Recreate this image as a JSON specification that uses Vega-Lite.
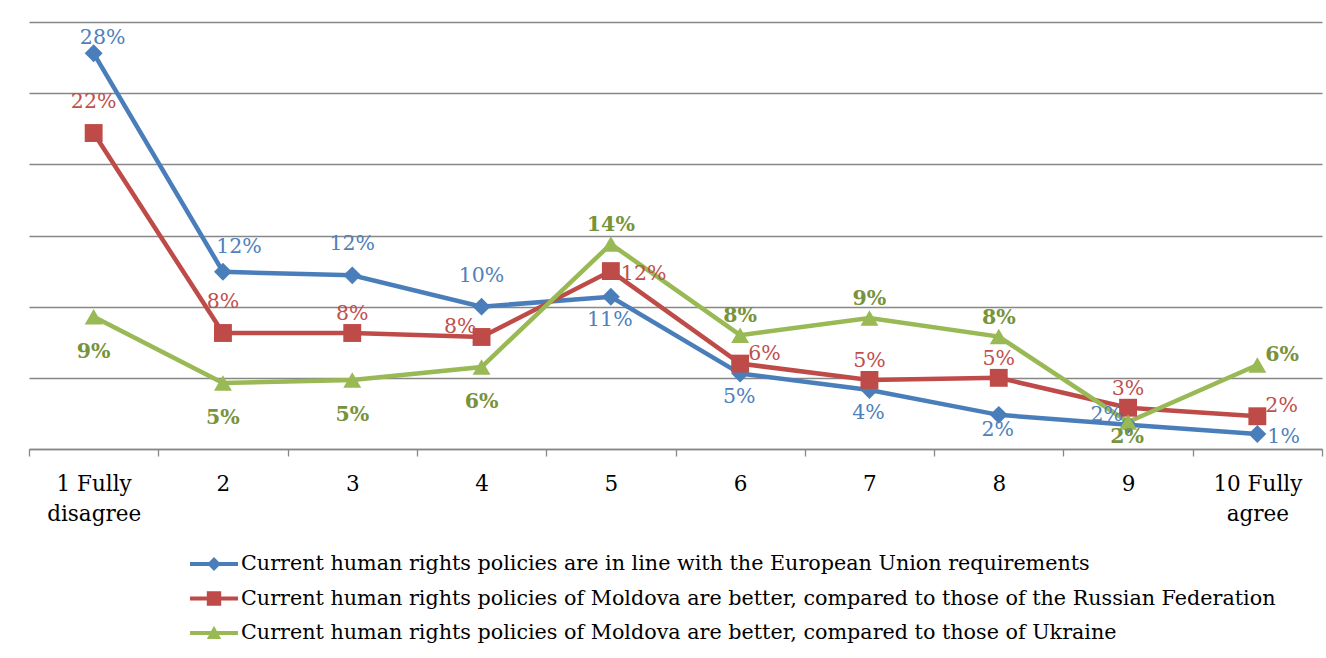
{
  "$schema": "https://vega.github.io/schema/vega-lite/v6.json",
  "width": 1293,
  "height": 427,
  "autosize": {"type": "none"},
  "padding": {"left": 29, "top": 22, "right": 4, "bottom": 209},
  "background": "white",
  "config": {"view": {"stroke": null}, "font": "DejaVu Serif"},
  "data": {
    "values": [
      {"code": "EU", "k": 1, "x": "1 Fully disagree", "v": 27.8, "label": "28%"},
      {"code": "EU", "k": 2, "x": "2", "v": 12.45, "label": "12%"},
      {"code": "EU", "k": 3, "x": "3", "v": 12.2, "label": "12%"},
      {"code": "EU", "k": 4, "x": "4", "v": 10.0, "label": "10%"},
      {"code": "EU", "k": 5, "x": "5", "v": 10.7, "label": "11%"},
      {"code": "EU", "k": 6, "x": "6", "v": 5.3, "label": "5%"},
      {"code": "EU", "k": 7, "x": "7", "v": 4.15, "label": "4%"},
      {"code": "EU", "k": 8, "x": "8", "v": 2.4, "label": "2%"},
      {"code": "EU", "k": 9, "x": "9", "v": 1.7, "label": "2%"},
      {"code": "EU", "k": 10, "x": "10 Fully agree", "v": 1.05, "label": "1%"},
      {"code": "RU", "k": 1, "x": "1 Fully disagree", "v": 22.2, "label": "22%"},
      {"code": "RU", "k": 2, "x": "2", "v": 8.15, "label": "8%"},
      {"code": "RU", "k": 3, "x": "3", "v": 8.15, "label": "8%"},
      {"code": "RU", "k": 4, "x": "4", "v": 7.87, "label": "8%"},
      {"code": "RU", "k": 5, "x": "5", "v": 12.5, "label": "12%"},
      {"code": "RU", "k": 6, "x": "6", "v": 6.0, "label": "6%"},
      {"code": "RU", "k": 7, "x": "7", "v": 4.85, "label": "5%"},
      {"code": "RU", "k": 8, "x": "8", "v": 5.0, "label": "5%"},
      {"code": "RU", "k": 9, "x": "9", "v": 2.9, "label": "3%"},
      {"code": "RU", "k": 10, "x": "10 Fully agree", "v": 2.3, "label": "2%"},
      {"code": "UA", "k": 1, "x": "1 Fully disagree", "v": 9.3, "label": "9%"},
      {"code": "UA", "k": 2, "x": "2", "v": 4.64, "label": "5%"},
      {"code": "UA", "k": 3, "x": "3", "v": 4.85, "label": "5%"},
      {"code": "UA", "k": 4, "x": "4", "v": 5.76, "label": "6%"},
      {"code": "UA", "k": 5, "x": "5", "v": 14.4, "label": "14%"},
      {"code": "UA", "k": 6, "x": "6", "v": 8.0, "label": "8%"},
      {"code": "UA", "k": 7, "x": "7", "v": 9.2, "label": "9%"},
      {"code": "UA", "k": 8, "x": "8", "v": 7.9, "label": "8%"},
      {"code": "UA", "k": 9, "x": "9", "v": 1.9, "label": "2%"},
      {"code": "UA", "k": 10, "x": "10 Fully agree", "v": 5.9, "label": "6%"}
    ]
  },
  "encoding": {
    "x": {
      "field": "x",
      "type": "nominal",
      "sort": ["1 Fully disagree", "2", "3", "4", "5", "6", "7", "8", "9", "10 Fully agree"],
      "scale": {"paddingInner": 0, "paddingOuter": 0},
      "axis": {
        "title": null,
        "labelAngle": 0,
        "tickBand": "extent",
        "grid": false,
        "domainColor": "#878787",
        "domainWidth": 1.3,
        "tickColor": "#878787",
        "tickWidth": 1.3,
        "tickSize": 7,
        "labelFont": "DejaVu Serif",
        "labelFontSize": 21.5,
        "labelColor": "#000000",
        "labelPadding": 17,
        "labelLineHeight": 30,
        "labelExpr": "datum.value == '1 Fully disagree' ? ['1 Fully', 'disagree'] : datum.value == '10 Fully agree' ? ['10 Fully', 'agree'] : datum.value"
      }
    },
    "y": {
      "field": "v",
      "type": "quantitative",
      "scale": {"domain": [0, 30], "nice": false},
      "axis": {
        "title": null,
        "values": [0, 5, 10, 15, 20, 25, 30],
        "labels": false,
        "ticks": false,
        "domain": false,
        "grid": true,
        "gridColor": "#878787",
        "gridWidth": 1.3
      }
    }
  },
  "layer": [
    {
      "mark": {"type": "line", "strokeWidth": 4.5},
      "encoding": {
        "stroke": {
          "field": "code",
          "type": "nominal",
          "scale": {"range": ["#4A7EBB", "#BE4B48", "#98B954"]},
          "legend": null
        }
      }
    },
    {
      "mark": {"type": "point", "filled": true, "opacity": 1, "size": 320},
      "encoding": {
        "color": {
          "field": "code",
          "type": "nominal",
          "scale": {"domain": ["EU", "RU", "UA"], "range": ["#4A7EBB", "#BE4B48", "#98B954"]},
          "legend": {
            "orient": "none",
            "legendX": 161,
            "legendY": 532,
            "direction": "vertical",
            "title": null,
            "labelExpr": "datum.value == 'EU' ? 'Current human rights policies are in line with the European Union requirements' : datum.value == 'RU' ? 'Current human rights policies of Moldova are better, compared to those of the Russian Federation' : 'Current human rights policies of Moldova are better, compared to those of Ukraine'",
            "labelFont": "DejaVu Serif",
            "labelFontSize": 20.7,
            "labelColor": "#000000",
            "labelLimit": 2000,
            "labelOffset": 3,
            "symbolSize": 2304,
            "symbolStrokeWidth": 0,
            "symbolOpacity": 1,
            "clipHeight": 20,
            "rowPadding": 13.5,
            "encode": {
              "symbols": {
                "update": {
                  "shape": {
                    "signal": "datum.value == 'EU' ? 'M-1,-0.085L-0.205,-0.085L0,-0.29L0.205,-0.085L1,-0.085L1,0.085L0.205,0.085L0,0.29L-0.205,0.085L-1,0.085Z' : datum.value == 'RU' ? 'M-1,-0.085L-0.3,-0.085L-0.3,-0.3L0.3,-0.3L0.3,-0.085L1,-0.085L1,0.085L0.3,0.085L0.3,0.3L-0.3,0.3L-0.3,0.085L-1,0.085Z' : 'M-1,-0.085L-0.118,-0.085L0,-0.3L0.118,-0.085L1,-0.085L1,0.085L0.209,0.085L0.3,0.25L-0.3,0.25L-0.209,0.085L-1,0.085Z'"
                  },
                  "fill": {"signal": "datum.value == 'EU' ? '#4A7EBB' : datum.value == 'RU' ? '#BE4B48' : '#98B954'"},
                  "stroke": {"value": "transparent"}
                }
              }
            }
          }
        },
        "shape": {
          "field": "code",
          "type": "nominal",
          "scale": {"range": ["diamond", "square", "triangle-up"]},
          "legend": null
        }
      }
    },
    {
      "encoding": {
        "text": {"field": "label"}
      },
      "layer": [
        {
          "transform": [{"filter": "indexof(['EU3','EU4','RU1','RU2'], datum.code + datum.k) >= 0"}],
          "mark": {"type": "text", "font": "DejaVu Serif", "fontSize": 20.5, "baseline": "middle", "align": "center", "dx": 0, "dy": -31, "fill": {"expr": "datum.code == 'EU' ? '#4F81BD' : datum.code == 'RU' ? '#C0504D' : '#77933C'"}, "fontWeight": {"expr": "datum.code == 'UA' ? 'bold' : 'normal'"}}
        },
        {
          "transform": [{"filter": "indexof(['EU2'], datum.code + datum.k) >= 0"}],
          "mark": {"type": "text", "font": "DejaVu Serif", "fontSize": 20.5, "baseline": "middle", "align": "center", "dx": 16, "dy": -25, "fill": {"expr": "datum.code == 'EU' ? '#4F81BD' : datum.code == 'RU' ? '#C0504D' : '#77933C'"}, "fontWeight": {"expr": "datum.code == 'UA' ? 'bold' : 'normal'"}}
        },
        {
          "transform": [{"filter": "indexof(['EU1'], datum.code + datum.k) >= 0"}],
          "mark": {"type": "text", "font": "DejaVu Serif", "fontSize": 20.5, "baseline": "middle", "align": "center", "dx": 9, "dy": -15, "fill": {"expr": "datum.code == 'EU' ? '#4F81BD' : datum.code == 'RU' ? '#C0504D' : '#77933C'"}, "fontWeight": {"expr": "datum.code == 'UA' ? 'bold' : 'normal'"}}
        },
        {
          "transform": [{"filter": "indexof(['RU3','RU7','RU8','RU9','UA5','UA6','UA7','UA8'], datum.code + datum.k) >= 0"}],
          "mark": {"type": "text", "font": "DejaVu Serif", "fontSize": 20.5, "baseline": "middle", "align": "center", "dx": 0, "dy": -19, "fill": {"expr": "datum.code == 'EU' ? '#4F81BD' : datum.code == 'RU' ? '#C0504D' : '#77933C'"}, "fontWeight": {"expr": "datum.code == 'UA' ? 'bold' : 'normal'"}}
        },
        {
          "transform": [{"filter": "indexof(['EU5','EU6','EU7'], datum.code + datum.k) >= 0"}],
          "mark": {"type": "text", "font": "DejaVu Serif", "fontSize": 20.5, "baseline": "middle", "align": "center", "dx": -1, "dy": 23, "fill": {"expr": "datum.code == 'EU' ? '#4F81BD' : datum.code == 'RU' ? '#C0504D' : '#77933C'"}, "fontWeight": {"expr": "datum.code == 'UA' ? 'bold' : 'normal'"}}
        },
        {
          "transform": [{"filter": "indexof(['EU8','UA9'], datum.code + datum.k) >= 0"}],
          "mark": {"type": "text", "font": "DejaVu Serif", "fontSize": 20.5, "baseline": "middle", "align": "center", "dx": -1, "dy": 15, "fill": {"expr": "datum.code == 'EU' ? '#4F81BD' : datum.code == 'RU' ? '#C0504D' : '#77933C'"}, "fontWeight": {"expr": "datum.code == 'UA' ? 'bold' : 'normal'"}}
        },
        {
          "transform": [{"filter": "indexof(['UA1','UA2','UA3','UA4'], datum.code + datum.k) >= 0"}],
          "mark": {"type": "text", "font": "DejaVu Serif", "fontSize": 20.5, "baseline": "middle", "align": "center", "dx": 0, "dy": 35, "fill": {"expr": "datum.code == 'EU' ? '#4F81BD' : datum.code == 'RU' ? '#C0504D' : '#77933C'"}, "fontWeight": {"expr": "datum.code == 'UA' ? 'bold' : 'normal'"}}
        },
        {
          "transform": [{"filter": "indexof(['RU6','RU10','UA10'], datum.code + datum.k) >= 0"}],
          "mark": {"type": "text", "font": "DejaVu Serif", "fontSize": 20.5, "baseline": "middle", "align": "left", "dx": 8, "dy": -10, "fill": {"expr": "datum.code == 'EU' ? '#4F81BD' : datum.code == 'RU' ? '#C0504D' : '#77933C'"}, "fontWeight": {"expr": "datum.code == 'UA' ? 'bold' : 'normal'"}}
        },
        {
          "transform": [{"filter": "indexof(['EU10','RU5'], datum.code + datum.k) >= 0"}],
          "mark": {"type": "text", "font": "DejaVu Serif", "fontSize": 20.5, "baseline": "middle", "align": "left", "dx": 10, "dy": 3, "fill": {"expr": "datum.code == 'EU' ? '#4F81BD' : datum.code == 'RU' ? '#C0504D' : '#77933C'"}, "fontWeight": {"expr": "datum.code == 'UA' ? 'bold' : 'normal'"}}
        },
        {
          "transform": [{"filter": "indexof(['EU9','RU4'], datum.code + datum.k) >= 0"}],
          "mark": {"type": "text", "font": "DejaVu Serif", "fontSize": 20.5, "baseline": "middle", "align": "right", "dx": -5, "dy": -10, "fill": {"expr": "datum.code == 'EU' ? '#4F81BD' : datum.code == 'RU' ? '#C0504D' : '#77933C'"}, "fontWeight": {"expr": "datum.code == 'UA' ? 'bold' : 'normal'"}}
        }
      ]
    }
  ]
}
